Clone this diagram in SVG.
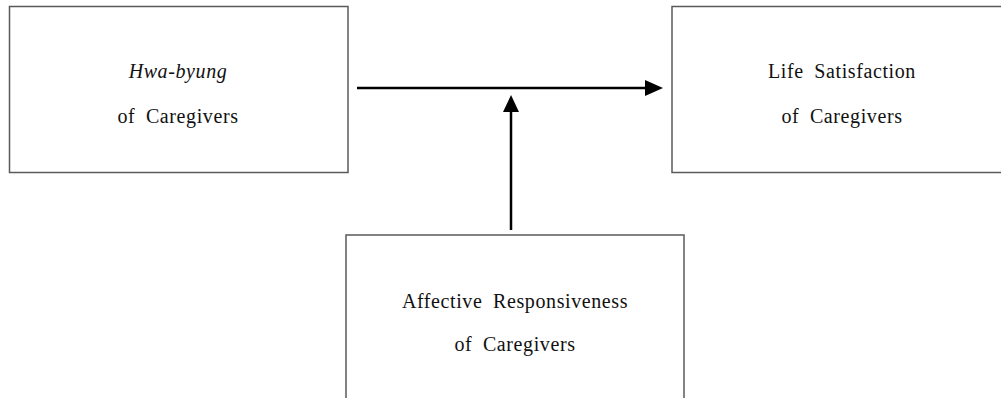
<svg xmlns="http://www.w3.org/2000/svg" width="1001" height="398" viewBox="0 0 1001 398">
<style>
.box{fill:#fff;stroke:#5a5a5a;stroke-width:1.5}
.t{font-family:"Liberation Serif","Times New Roman",serif;font-size:20px;fill:#111;text-anchor:middle;letter-spacing:0.6px;word-spacing:5px}
.it{font-style:italic}
.conn{stroke:#000;stroke-width:2.5;fill:none}
</style>
<rect width="1001" height="398" fill="#fff"/>
<g id="hwabyung">
<rect class="box" x="9.5" y="6.5" width="338.5" height="166"/>
<text class="t it" x="178" y="78">Hwa-byung</text>
<text class="t" x="178" y="123">of Caregivers</text>
</g>
<g id="life-satisfaction">
<rect class="box" x="672" y="6.5" width="340" height="166"/>
<text class="t" x="842" y="78">Life Satisfaction</text>
<text class="t" x="842" y="123">of Caregivers</text>
</g>
<g id="affective-responsiveness">
<rect class="box" x="346" y="235" width="338" height="180"/>
<text class="t" x="515" y="308">Affective Responsiveness</text>
<text class="t" x="515" y="351">of Caregivers</text>
</g>
<g id="connectors">
<line class="conn" x1="357" y1="88" x2="646" y2="88"/>
<path d="M645,80 L663,88 L645,96 z" fill="#000"/>
<line class="conn" x1="511" y1="230" x2="511" y2="111"/>
<path d="M503,112 L511,95 L519,112 z" fill="#000"/>
</g>
</svg>
